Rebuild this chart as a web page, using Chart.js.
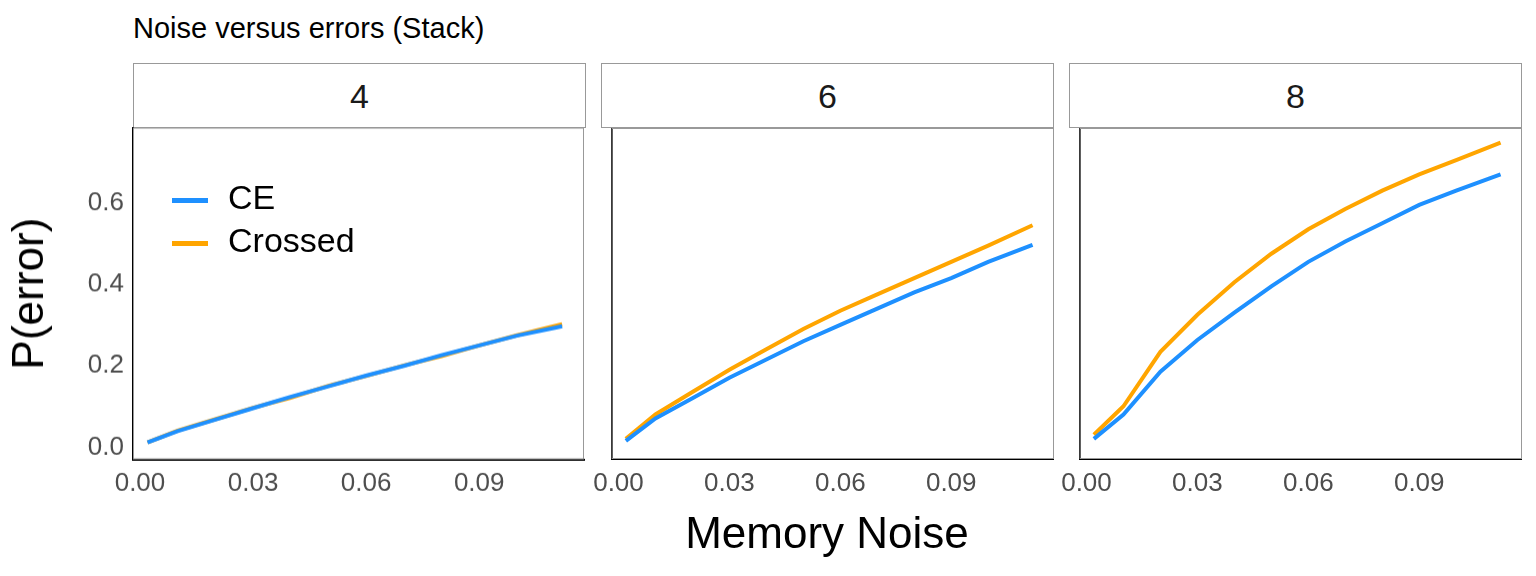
<!DOCTYPE html>
<html><head><meta charset="utf-8">
<script src="https://cdn.jsdelivr.net/npm/chart.js@4"></script>
<style>
body{margin:0;width:1536px;height:576px;background:#fff;font-family:"Liberation Sans",Arial,sans-serif;position:relative;overflow:hidden}
.strip{position:absolute;top:63px;height:65px;border:1px solid #999;background:#fff;text-align:center;line-height:65px;font-size:34px;color:#1a1a1a;box-sizing:border-box}
.cv{position:absolute;top:128px}
#title{position:absolute;left:133px;top:12px;font-size:29px;color:#000}
#xt{position:absolute;left:0;width:1654px;top:508px;text-align:center;font-size:44px;color:#000}
#leg{position:absolute;left:172px;top:176px;font-size:34px;color:#000}
#leg div{height:43px;line-height:43px}
#leg span{display:inline-block;width:36px;height:5px;margin-right:20px;vertical-align:middle}
</style></head><body>
<div id="title">Noise versus errors (Stack)</div>
<div class="strip" style="left:133px;width:453px">4</div>
<div class="strip" style="left:601px;width:453px">6</div>
<div class="strip" style="left:1069px;width:453px">8</div>
<div class="cv" id="w1" style="left:0;width:586px;height:420px"><canvas id="c1"></canvas></div>
<div class="cv" style="left:590px;width:464px;height:420px"><canvas id="c2"></canvas></div>
<div class="cv" style="left:1058px;width:464px;height:420px"><canvas id="c3"></canvas></div>
<div id="xt">Memory Noise</div>
<div id="leg"><div><span style="background:#1e90ff"></span>CE</div><div><span style="background:#ffa500"></span>Crossed</div></div>
<script>
var noise = [0.002,0.01,0.02,0.03,0.04,0.05,0.06,0.07,0.08,0.09,0.10,0.112];
var ce4 = [0.012,0.04,0.068,0.096,0.124,0.15,0.176,0.2,0.226,0.25,0.274,0.297];
var crossed4 = [0.012,0.041,0.069,0.097,0.122,0.151,0.175,0.201,0.224,0.25,0.275,0.302];
var ce6 = [0.015,0.07,0.12,0.17,0.215,0.26,0.30,0.34,0.38,0.415,0.455,0.497];
var crossed6 = [0.02,0.08,0.135,0.19,0.24,0.29,0.335,0.375,0.415,0.455,0.495,0.545];
var ce8 = [0.02,0.08,0.185,0.263,0.33,0.395,0.455,0.505,0.55,0.595,0.63,0.67];
var crossed8 = [0.03,0.1,0.234,0.325,0.405,0.475,0.535,0.585,0.63,0.67,0.705,0.748];
var xTicks = [0, 0.03, 0.06, 0.09];
var yTicks = [0, 0.2, 0.4, 0.6];

var frame = {
	id : 'frame',
	beforeDatasetsDraw : function(chart) {
		var a = chart.chartArea, ctx = chart.ctx;
		ctx.save();
		ctx.strokeStyle = '#999';
		ctx.lineWidth = 1;
		ctx.strokeRect(a.left + 0.5, a.top + 0.5, a.right - a.left - 1, a.bottom - a.top - 1);
		ctx.restore();
	}
};

function makeChart(id, ce, crossed, first) {
	var tickFont = { size : 26, family : '"Liberation Sans", Arial, sans-serif' };
	var config = {
		type : 'line',
		data : {
			datasets : [ {
				data : noise.map(function(x, i) { return { x : x, y : ce[i] }; }),
				borderColor : '#1e90ff', borderWidth : 4, pointRadius : 0
			}, {
				data : noise.map(function(x, i) { return { x : x, y : crossed[i] }; }),
				borderColor : '#ffa500', borderWidth : 4, pointRadius : 0
			} ]
		},
		options : {
			responsive : true, maintainAspectRatio : false, animation : false,
			layout : { padding : 0 },
			plugins : { legend : { display : false }, tooltip : { enabled : false } },
			scales : {
				x : {
					type : 'linear', min : -0.00185, max : 0.1178,
					grid : { display : false, tickLength : 6, color : '#333' },
					border : { color : '#000', width : 2 },
					afterBuildTicks : function(s) { s.ticks = xTicks.map(function(v) { return { value : v }; }); },
					ticks : { maxRotation : 0, color : '#4d4d4d', font : tickFont,
						callback : function(v) { return v.toFixed(2); } },
					afterFit : function(s) { s.height = 89; }
				},
				y : {
					min : -0.0295, max : 0.784,
					grid : { display : false, tickLength : 6, color : '#333' },
					border : { color : '#000', width : 2 },
					afterBuildTicks : function(s) { s.ticks = yTicks.map(function(v) { return { value : v }; }); },
					ticks : { display : first, color : '#4d4d4d', font : tickFont,
						callback : function(v) { return v.toFixed(1); } },
					title : { display : first, text : 'P(error)', color : '#000',
						font : { size : 44, family : '"Liberation Sans", Arial, sans-serif' } },
					afterFit : function(s) { s.width = first ? 133 : 11; }
				}
			}
		},
		plugins : [ frame ]
	};
	return new Chart(document.getElementById(id).getContext('2d'), config);
}

var c1 = makeChart('c1', ce4, crossed4, true);
makeChart('c2', ce6, crossed6, false);
makeChart('c3', ce8, crossed8, false);
// first panel gets extra top padding from its tick labels; shift it so plot areas line up
var extra = c1.chartArea.top;
if (extra > 0) {
	var w = document.getElementById('w1');
	w.style.top = (128 - extra) + 'px';
	w.style.height = (420 + extra) + 'px';
	c1.resize();
}
</script>
</body></html>
